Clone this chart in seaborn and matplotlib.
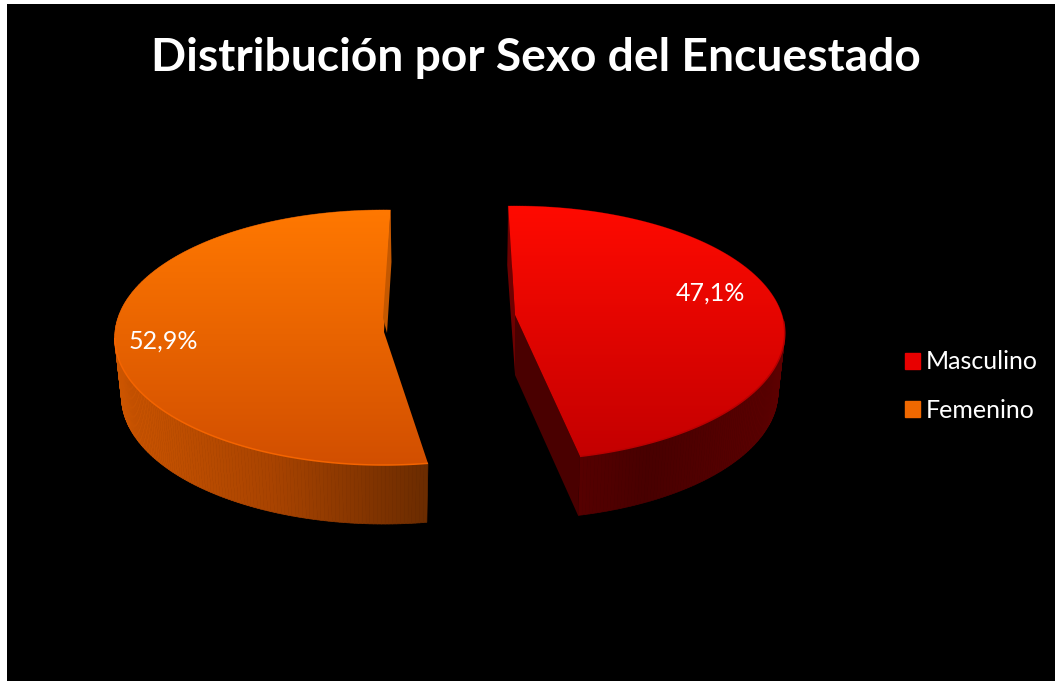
import numpy as np
import matplotlib
matplotlib.use('Agg')
import matplotlib.pyplot as plt
from matplotlib.collections import PolyCollection
from matplotlib.patches import Patch, Polygon
import seaborn as sns

categories = ['Masculino', 'Femenino']
shares = [47.1, 52.9]
title_text = 'Distribución por Sexo del Encuestado'

# how each exploded slice is seen from the camera
apex_x = [515, 384]
apex_y = [315, 332]
width_r = [267, 269]
height_r = [124.5, 127.3]
persp = [0.142, 0.043]
twist = [0.8, -2.3]
depth = 59

top_colors = [['#ff0a00', '#c40000'], ['#ff7800', '#d24f00']]
wall_colors = [['#640000', '#480000', '#5c0000'], ['#6a2b00', '#a84300', '#cc5500']]
rim_colors = ['#b80000', '#f46400']
legend_colors = ['#e80000', '#f06800']
label_pos = [(710, 293), (163, 341)]

sns.set_theme(style='white')
plt.rcParams['font.family'] = ['Lato', 'DejaVu Sans']

fig = plt.figure(figsize=(10.55, 6.81), dpi=100, facecolor='white')
ax = fig.add_axes([7 / 1055, 0, 1048 / 1055, 677 / 681])

# the pie works out the slice angles, the 3D look is drawn from them
wedges, _ = ax.pie(shares, startangle=-78.7, colors=legend_colors)
angles = [(w.theta1, w.theta2) for w in wedges]
for w in wedges:
    w.remove()

ax.set_box_aspect(None)
ax.set_aspect('auto')
ax.set_frame_on(True)
ax.set_facecolor('black')
ax.set_xticks([])
ax.set_yticks([])
for s in ax.spines.values():
    s.set_visible(False)


def project(i, phi, low=False):
    x = np.cos(np.radians(phi))
    y = np.sin(np.radians(phi))
    w = 1 + persp[i] * y
    sx = 0.975 if low else 1
    off = depth if low else 0
    return (apex_x[i] + sx * width_r[i] * x / w,
            apex_y[i] + off - height_r[i] * y / w)


for i in range(len(shares)):
    t1, t2 = angles[i]
    phi = np.linspace(t1 + twist[i], t2 + twist[i], 240)
    ux, uy = project(i, phi)
    lx, ly = project(i, phi, low=True)
    top_pts = np.column_stack([np.r_[apex_x[i], ux], np.r_[apex_y[i], uy]])

    # outer wall, shaded by horizontal position
    quads = [[(ux[j], uy[j]), (ux[j + 1], uy[j + 1]), (lx[j + 1], ly[j + 1]), (lx[j], ly[j])]
             for j in range(len(phi) - 1)]
    cmap = sns.blend_palette(wall_colors[i], n_colors=256, as_cmap=True)
    frac = (ux[:-1] - ux.min()) / (ux.max() - ux.min())
    if i == 1:
        # orange: bright on the left, dark at the cut
        frac = 1 - frac
    ax.add_collection(PolyCollection(quads, facecolors=cmap(frac), edgecolors=cmap(frac),
                                     linewidths=0.5, zorder=2))

    # cut faces
    if i == 0:
        bx, by = project(i, t2 + twist[i])
        ex, ey = project(i, t1 + twist[i])
        ax.fill([bx, bx - 1, apex_x[i], apex_x[i]],
                [by, by + depth, apex_y[i] + depth, apex_y[i]],
                color='#6e0000', lw=0, zorder=3)
        ax.fill([apex_x[i], ex, ex - 2, apex_x[i]],
                [apex_y[i], ey, ey + depth, apex_y[i] + depth + 1],
                color='#4a0000', lw=0, zorder=3)

    # top surface with a vertical gradient, clipped to the slice
    clip = Polygon(top_pts, closed=True, transform=ax.transData, fc='none', ec='none')
    ax.add_patch(clip)
    grad = sns.blend_palette(top_colors[i], n_colors=256, as_cmap=True)
    im = ax.imshow(np.linspace(0, 1, 256).reshape(-1, 1), cmap=grad, aspect='auto',
                   extent=[top_pts[:, 0].min(), top_pts[:, 0].max(), top_pts[:, 1].max(), top_pts[:, 1].min()],
                   zorder=4)
    im.set_clip_path(clip)

    # slightly different rim on the front edge of the top
    front = uy > apex_y[i] + 5
    ax.plot(ux[front], uy[front], color=rim_colors[i], lw=1.1, zorder=5, solid_capstyle='butt')

    # small dark strip at the back cut of the orange slice
    if i == 1:
        bx, by = project(i, t1 + twist[i])
        ax.fill([bx, bx + 1, apex_x[i] + 3, apex_x[i] - 1],
                [by, by + 52, apex_y[i] + 1, apex_y[i] - 14],
                color='#c45800', lw=0, zorder=5)

    ax.text(label_pos[i][0], label_pos[i][1], f'{shares[i]:.1f}%'.replace('.', ','),
            color='white', fontsize=18, ha='center', va='center', zorder=6)

ax.set_xlim(7, 1055)
ax.set_ylim(681, 4)

ax.text(535.5, 58, title_text, color='white', fontsize=33.2, fontweight='bold',
        ha='center', va='center')

handles = [Patch(facecolor=c, edgecolor=c) for c in legend_colors]
ax.legend(handles, categories, loc='center left', bbox_to_anchor=(882 / 1055, 0.433),
          bbox_transform=fig.transFigure, frameon=False, labelcolor='white', fontsize=18,
          handlelength=0.6, handleheight=0.6, handletextpad=0.26, labelspacing=1.02)

fig.savefig('out.png', dpi=100, facecolor='white')
